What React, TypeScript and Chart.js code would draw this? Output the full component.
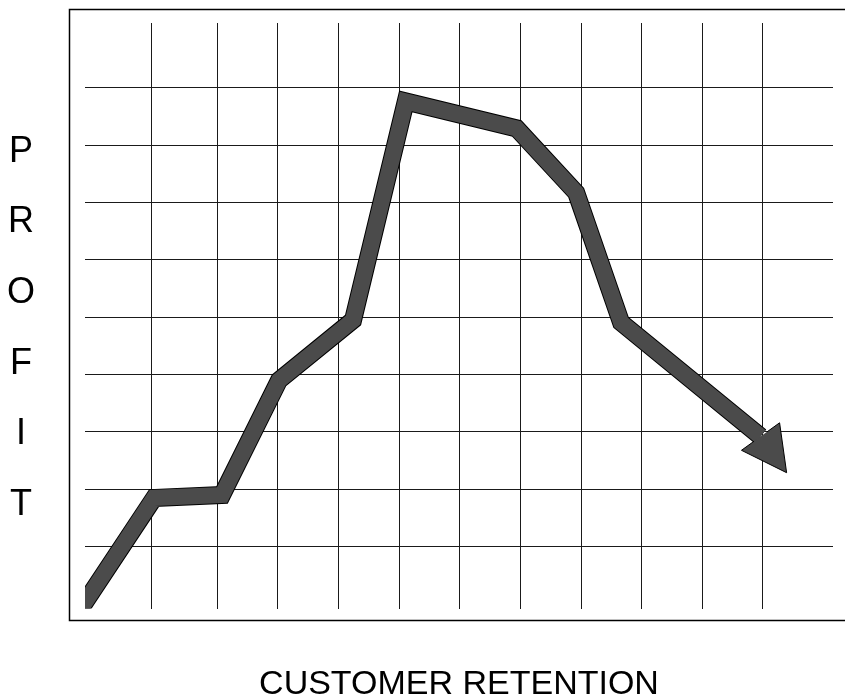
import React, { useEffect, useRef } from 'react';
import { Chart, registerables } from 'chart.js';

Chart.register(...registerables);

// ---- data ----
const RETENTION = [-0.35, 0.96, 2.08, 3.02, 4.24, 5.11, 6.94, 7.92, 8.66, 10.96, 11.39];
const PROFIT = [-0.24, 1.85, 1.9, 3.9, 4.95, 8.76, 8.29, 7.17, 4.91, 2.92, 2.29];
const GRID_X = [0.92, 2, 3, 4, 5, 6, 7, 8, 9, 10, 11];
const GRID_Y = [1, 2, 3, 4, 5, 6, 7, 8, 9];
const X_MIN = -0.18;
const X_MAX = 12.155;
const Y_MIN = -0.077;
const Y_MAX = 10.128;
const Y_TITLE = ['P', 'R', 'O', 'F', 'I', 'T'];
const X_TITLE = 'CUSTOMER RETENTION';

const FONT = '"Liberation Sans", Arial, Helvetica, sans-serif';
const FILL = '#4b4b4b';

const decorPlugin = {
  id: 'decor',
  beforeDraw(chart: any) {
    const { ctx, chartArea } = chart;
    ctx.save();
    ctx.fillStyle = '#ffffff';
    ctx.fillRect(0, 0, chart.width, chart.height);
    // outer frame
    ctx.strokeStyle = '#000';
    ctx.lineWidth = 1.5;
    const left = chartArea.left - 15.5;
    const top = chartArea.top - 13.5;
    const bottom = chartArea.bottom + 12;
    ctx.strokeRect(left, top, chart.width + 50 - left, bottom - top);
    ctx.restore();
  },
  afterDraw(chart: any) {
    const { ctx, chartArea } = chart;
    ctx.save();
    ctx.fillStyle = '#000';
    ctx.textAlign = 'center';
    ctx.textBaseline = 'alphabetic';
    ctx.font = `36px ${FONT}`;
    Y_TITLE.forEach((ch, i) => {
      ctx.fillText(ch, 21, 161.5 + i * 70.7);
    });
    ctx.font = `34px ${FONT}`;
    ctx.fillText(X_TITLE, (chartArea.left + chartArea.right) / 2, 694);
    ctx.restore();
  },
};

const arrowPlugin = {
  id: 'arrowhead',
  afterDatasetsDraw(chart: any) {
    const { ctx } = chart;
    const xs = chart.scales.x;
    const ys = chart.scales.y;
    const n = RETENTION.length;
    const bx = xs.getPixelForValue(RETENTION[n - 2]);
    const by = ys.getPixelForValue(PROFIT[n - 2]);
    const tx = xs.getPixelForValue(RETENTION[n - 1]);
    const ty = ys.getPixelForValue(PROFIT[n - 1]);
    const dx = tx - bx;
    const dy = ty - by;
    const len = Math.hypot(dx, dy);
    const ux = dx / len;
    const uy = dy / len;
    const px = -uy;
    const py = ux;
    const hw = 23.5;
    const sw = 8;
    const a = [bx + px * hw, by + py * hw];
    const b = [bx - px * hw, by - py * hw];
    ctx.save();
    ctx.beginPath();
    ctx.moveTo(a[0], a[1]);
    ctx.lineTo(tx, ty);
    ctx.lineTo(b[0], b[1]);
    ctx.closePath();
    ctx.fillStyle = FILL;
    ctx.fill();
    ctx.beginPath();
    ctx.moveTo(bx - px * sw, by - py * sw);
    ctx.lineTo(b[0], b[1]);
    ctx.lineTo(tx, ty);
    ctx.lineTo(a[0], a[1]);
    ctx.lineTo(bx + px * sw, by + py * sw);
    ctx.strokeStyle = '#000';
    ctx.lineWidth = 1;
    ctx.lineJoin = 'miter';
    ctx.stroke();
    ctx.restore();
  },
};

export default function App() {
  const ref = useRef<HTMLCanvasElement | null>(null);

  useEffect(() => {
    if (!ref.current) return;
    const shaft = RETENTION.slice(0, -1).map((x, i) => ({ x, y: PROFIT[i] }));
    const chart = new Chart(ref.current, {
      type: 'line',
      data: {
        datasets: [
          {
            data: shaft,
            borderColor: FILL,
            borderWidth: 16,
            borderJoinStyle: 'miter',
            borderCapStyle: 'butt',
            pointRadius: 0,
            tension: 0,
            fill: false,
          },
          {
            data: shaft,
            borderColor: '#000',
            borderWidth: 18,
            borderJoinStyle: 'miter',
            borderCapStyle: 'butt',
            pointRadius: 0,
            tension: 0,
            fill: false,
          },
        ],
      },
      options: {
        responsive: false,
        animation: false,
        devicePixelRatio: 1,
        layout: { padding: { left: 85, right: 12, top: 23, bottom: 87.5 } },
        plugins: {
          legend: { display: false },
          tooltip: { enabled: false },
          title: { display: false },
        },
        scales: {
          x: {
            type: 'linear',
            min: X_MIN,
            max: X_MAX,
            ticks: { display: false },
            grid: { color: '#1a1a1a', lineWidth: 1, drawTicks: false },
            border: { display: false },
            afterBuildTicks: (scale: any) => {
              scale.ticks = GRID_X.map((v) => ({ value: v }));
            },
          },
          y: {
            type: 'linear',
            min: Y_MIN,
            max: Y_MAX,
            ticks: { display: false },
            grid: { color: '#1a1a1a', lineWidth: 1, drawTicks: false },
            border: { display: false },
            afterBuildTicks: (scale: any) => {
              scale.ticks = GRID_Y.map((v) => ({ value: v }));
            },
          },
        },
      },
      plugins: [decorPlugin, arrowPlugin],
    } as any);
    return () => chart.destroy();
  }, []);

  return (
    <div style={{ position: 'absolute', left: 0, top: 0, width: 845, height: 696 }}>
      <canvas ref={ref} width={845} height={696} style={{ display: 'block' }} />
    </div>
  );
}
